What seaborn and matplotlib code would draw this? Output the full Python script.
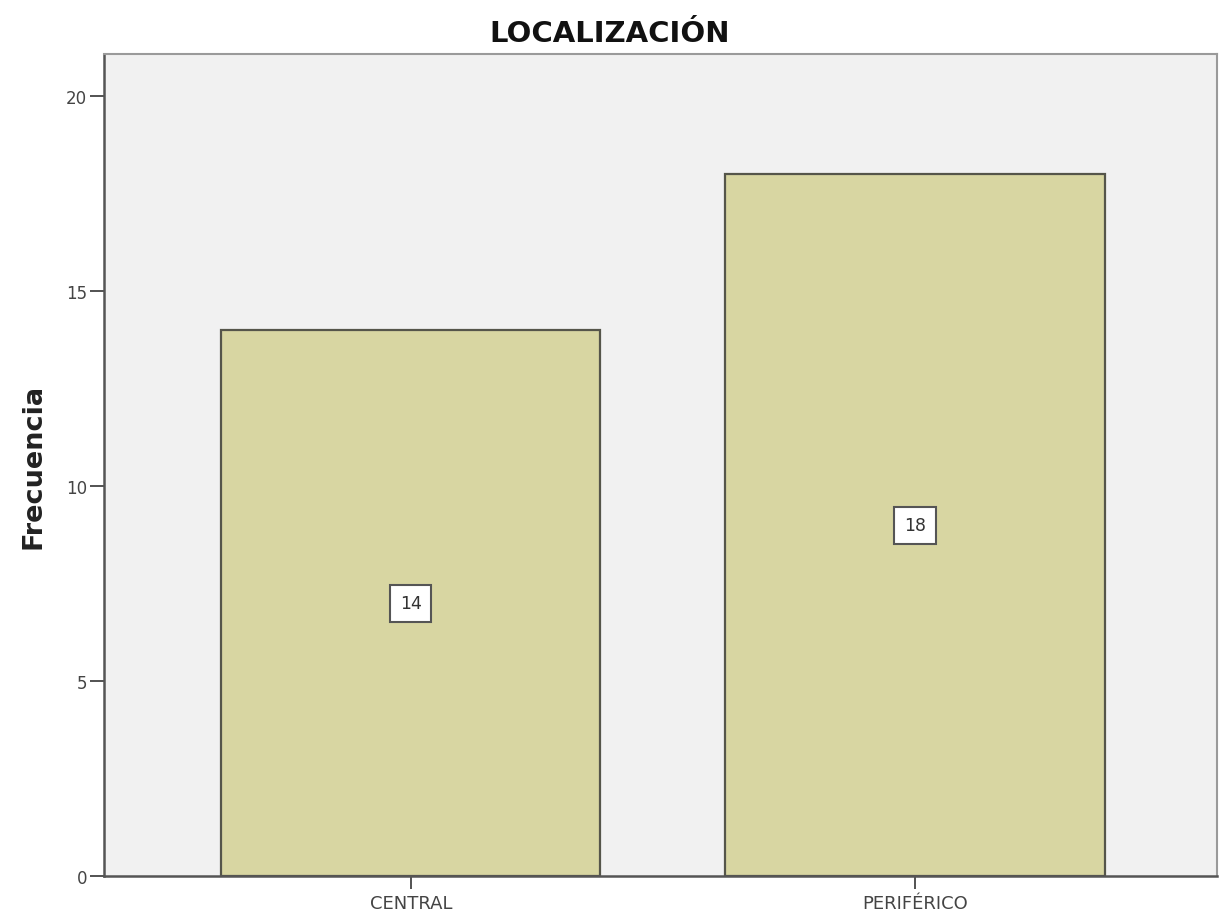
import matplotlib
matplotlib.use("Agg")
import matplotlib.pyplot as plt
import seaborn as sns
import pandas as pd

categorias = ["CENTRAL", "PERIFÉRICO"]
frecuencias = [14, 18]
ticks_y = [0, 5, 10, 15, 20]

sns.set_style("white")
plt.rcParams["font.family"] = ["DejaVu Sans"]

df = pd.DataFrame({"LOCALIZACIÓN": categorias, "Frecuencia": frecuencias})

fig = plt.figure(figsize=(12.2, 9.2), dpi=100)
ax = fig.add_axes([0.0852, 0.0467, 0.9123, 0.8935])
ax.set_facecolor("#f1f1f1")

sns.barplot(data=df, x="LOCALIZACIÓN", y="Frecuencia", ax=ax,
            color="#d8d6a2", saturation=1, width=0.752,
            edgecolor="#55554a", linewidth=1.6)

ax.set_xlim(-0.609, 1.599)
ax.set_ylim(0, 21.08)
ax.set_yticks(ticks_y)
ax.set_yticklabels([str(t) for t in ticks_y], fontsize=12, color="#444444")
ax.tick_params(axis="x", labelsize=13, colors="#444444", length=9, width=1.3,
               pad=4, bottom=True)
ax.tick_params(axis="y", length=10, width=1.3, pad=2, left=True, colors="#444444")

for side in ["left", "bottom"]:
    ax.spines[side].set_color("#555555")
    ax.spines[side].set_linewidth(1.8)
for side in ["top", "right"]:
    ax.spines[side].set_color("#9a9a9a")
    ax.spines[side].set_linewidth(1.5)

# value labels in boxes at mid-height of each bar
for i, v in enumerate(frecuencias):
    ax.text(i, v / 2, str(v), ha="center", va="center", fontsize=12.5,
            color="#333333",
            bbox=dict(boxstyle="square,pad=0.55", facecolor="white",
                      edgecolor="#555555", linewidth=1.5))

ax.set_xlabel("")
ax.set_ylabel("Frecuencia", fontsize=19.5, fontweight="bold", color="#222222", labelpad=14)
fig.text(0.5, 0.963, "LOCALIZACIÓN", ha="center", va="center",
         fontsize=21, fontweight="bold", color="#111111")

fig.savefig("out.png", dpi=100)
